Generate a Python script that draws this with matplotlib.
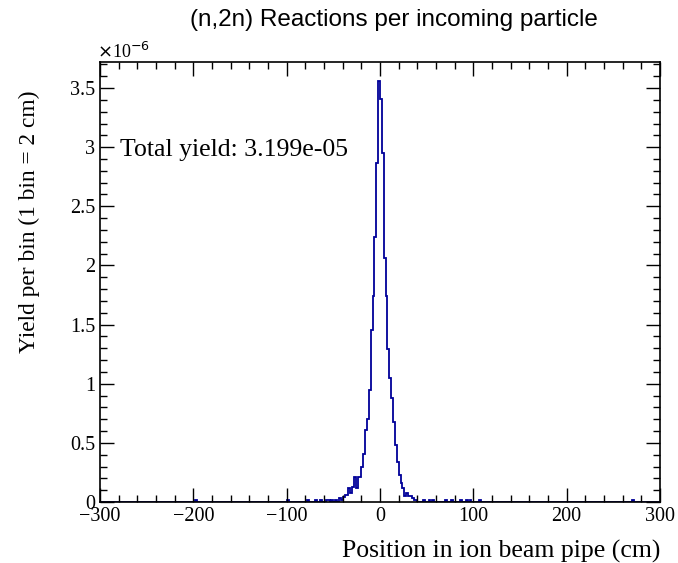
import numpy as np
import matplotlib
matplotlib.use('Agg')
import matplotlib.pyplot as plt
from matplotlib.ticker import MultipleLocator

# bin centres (cm) and yields (units of 1e-6) for the non-empty bins, 1 bin = 2 cm
left_centres = [-1, -3, -5, -7, -9, -11, -13, -15, -17, -19, -21, -23, -25, -27,
                -29, -31, -33, -35, -37, -39, -41, -43, -47, -51, -55, -57, -63,
                -69, -77, -99, -197]
left_yield = [3.56, 2.87, 2.24, 1.74, 1.45, 0.95, 0.70, 0.61, 0.41, 0.30, 0.21,
              0.21, 0.12, 0.21, 0.13, 0.08, 0.12, 0.06, 0.06, 0.04, 0.02, 0.03,
              0.02, 0.02, 0.015, 0.02, 0.015, 0.015, 0.015, 0.015, 0.02]
right_centres = [1, 3, 5, 7, 9, 11, 13, 15, 17, 19, 21, 23, 25, 27, 29, 31, 33,
                 35, 37, 39, 47, 53, 57, 71, 77, 87, 93, 97, 107, 271]
right_yield = [3.41, 2.95, 2.06, 1.74, 1.29, 1.05, 0.88, 0.68, 0.48, 0.34, 0.23,
               0.16, 0.12, 0.05, 0.08, 0.05, 0.05, 0.03, 0.02, 0.02, 0.015, 0.015,
               0.015, 0.015, 0.015, 0.015, 0.02, 0.015, 0.015, 0.015]

title = '(n,2n) Reactions per incoming particle'
xlabel = 'Position in ion beam pipe (cm)'
ylabel = 'Yield per bin (1 bin = 2 cm)'
total_text = 'Total yield: 3.199e-05'

yields, edges = np.histogram(left_centres + right_centres, bins=300, range=(-300, 300),
                             weights=left_yield + right_yield)

plt.rcParams['font.family'] = ['Liberation Serif', 'DejaVu Serif']

fig = plt.figure(figsize=(6.78, 5.63), dpi=100)
ax = fig.add_axes([100/678, 1-502/563, 560/678, 440/563])

ax.stairs(yields, edges, color='#000099', linewidth=1.3)

ax.set_xlim(-300, 300)
ax.set_ylim(0, 3.72)
ax.xaxis.set_major_locator(MultipleLocator(100))
ax.xaxis.set_minor_locator(MultipleLocator(20))
ax.yaxis.set_major_locator(MultipleLocator(0.5))
ax.yaxis.set_minor_locator(MultipleLocator(0.1))
ax.yaxis.set_major_formatter(matplotlib.ticker.FuncFormatter(lambda v, p: '%g' % v))
ax.tick_params(which='both', direction='in', top=True, right=True, labelsize=14.5, width=1)
ax.tick_params(which='major', length=10)
ax.tick_params(which='minor', length=5)
for s in ax.spines.values():
    s.set_linewidth(1.2)

ax.set_xlabel(xlabel, fontsize=18.5, loc='right', labelpad=10)
ax.set_ylabel(ylabel, fontsize=16.8, loc='top')
ax.yaxis.set_label_coords(-0.108, 0.935)
ax.text(0.035, 0.80, total_text, transform=ax.transAxes, fontsize=18.5, va='center')
ax.text(-0.005, 1.0, r'$\times$10$^{-6}$', transform=ax.transAxes, fontsize=13, va='bottom')

fig.text(394/678, 0.965, title, ha='center', va='center', fontsize=17.5, family='Liberation Sans')

fig.savefig('out.png', dpi=100)
